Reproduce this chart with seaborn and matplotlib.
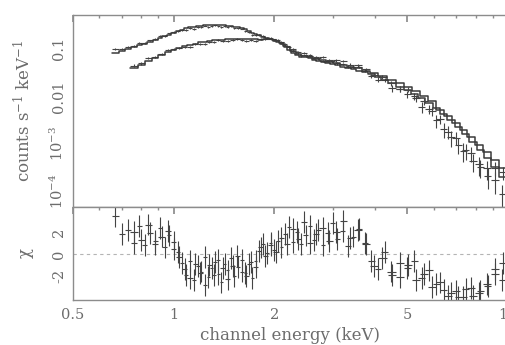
import numpy as np
import matplotlib
matplotlib.use('Agg')
import matplotlib.pyplot as plt
import seaborn as sns
from matplotlib.ticker import FixedLocator, NullFormatter, FixedFormatter

sns.set_theme(style='white')
plt.rcParams['font.family'] = ['DejaVu Serif']
plt.rcParams['mathtext.fontset'] = 'dejavuserif'

# ---------------- data ----------------
# spectrum 1 (higher at low energy)
s1_energy = [0.67, 0.70, 0.73, 0.76, 0.79, 0.82, 0.85, 0.88, 0.91, 0.94, 0.97, 1.00,
             1.03, 1.06, 1.09, 1.12, 1.15, 1.18, 1.21, 1.24, 1.27, 1.30, 1.33, 1.36,
             1.39, 1.42, 1.45, 1.48, 1.52, 1.56, 1.60, 1.64, 1.68, 1.72, 1.76, 1.80,
             1.85, 1.90, 1.95, 2.00, 2.05, 2.10, 2.16, 2.22, 2.28, 2.34, 2.41, 2.48,
             2.55, 2.63, 2.71, 2.80, 2.89, 2.99, 3.09, 3.20, 3.32, 3.45, 3.59, 3.74,
             3.90, 4.08, 4.28, 4.50, 4.75, 5.00, 5.25, 5.52, 5.80, 6.10, 6.42, 6.75,
             7.10, 7.47, 7.86, 8.27, 8.70, 9.15, 9.62]
s1_model = [0.082, 0.092, 0.101, 0.110, 0.120, 0.130, 0.141, 0.155, 0.170, 0.185, 0.200, 0.218,
            0.237, 0.256, 0.272, 0.284, 0.294, 0.302, 0.309, 0.315, 0.319, 0.321, 0.322, 0.321,
            0.319, 0.315, 0.310, 0.304, 0.295, 0.285, 0.274, 0.258, 0.240, 0.222, 0.205, 0.192,
            0.181, 0.173, 0.165, 0.155, 0.143, 0.130, 0.113, 0.097, 0.084, 0.076, 0.069, 0.066,
            0.063, 0.059, 0.056, 0.053, 0.050, 0.047, 0.045, 0.042, 0.040, 0.037, 0.035, 0.032,
            0.029, 0.026, 0.022, 0.019, 0.016, 0.0135, 0.0112, 0.0092, 0.0073, 0.0057, 0.0043, 0.0032,
            0.0023, 0.0016, 0.0011, 0.00075, 0.00050, 0.00032, 0.00020]
s1_relerr = [0.06, 0.05, 0.05, 0.05, 0.045, 0.045, 0.04, 0.04, 0.04, 0.04, 0.04, 0.04,
             0.04, 0.04, 0.04, 0.04, 0.04, 0.04, 0.04, 0.04, 0.04, 0.04, 0.04, 0.04,
             0.04, 0.04, 0.04, 0.04, 0.04, 0.04, 0.04, 0.04, 0.045, 0.045, 0.045, 0.045,
             0.045, 0.05, 0.05, 0.05, 0.05, 0.05, 0.055, 0.06, 0.06, 0.06, 0.06, 0.06,
             0.06, 0.06, 0.06, 0.065, 0.065, 0.065, 0.07, 0.07, 0.075, 0.08, 0.08, 0.085,
             0.09, 0.10, 0.11, 0.12, 0.13, 0.14, 0.15, 0.16, 0.17, 0.17, 0.16, 0.16,
             0.15, 0.17, 0.16, 0.17, 0.20, 0.26, 0.24]
s1_chi = [3.5, 1.8, 2.2, 1.0, 2.6, 0.8, 1.9, 1.2, 2.4, 0.6, 1.7, 1.1,
          0.2, -0.8, -1.9, -0.6, -2.4, -1.1, -1.6, -0.3, -2.1, -1.3, -0.7, -1.8,
          -2.6, -0.9, -1.5, -0.4, -2.0, -1.2, -0.5, -1.7, -0.9, -2.2, -0.6, 0.3,
          0.9, 0.1, 1.0, 0.4, 1.2, 0.6, 1.8, 2.5, 1.1, 2.0, 0.9, 1.7,
          2.6, 1.3, 2.2, 0.8, 1.9, 2.8, 1.4, 2.1, 0.7, 1.6, 2.3, 1.0,
          -0.6, -1.4, 0.2, -1.9, -0.8, -1.3, -0.6, -2.2, -1.5, -2.7, -3.3, -3.6,
          -3.9, -3.2, -3.8, -3.4, -2.9, -1.8, -2.4]

# spectrum 2 (lower at low energy, higher at high energy)
s2_energy = [0.76, 0.80, 0.84, 0.88, 0.92, 0.96, 1.00, 1.04, 1.08, 1.12, 1.16, 1.20,
             1.24, 1.28, 1.32, 1.36, 1.40, 1.45, 1.50, 1.55, 1.60, 1.65, 1.70, 1.76,
             1.82, 1.88, 1.95, 2.02, 2.10, 2.18, 2.27, 2.36, 2.46, 2.56, 2.67, 2.79,
             2.92, 3.06, 3.21, 3.37, 3.55, 3.75, 3.97, 4.21, 4.48, 4.75, 5.02, 5.30,
             5.60, 5.92, 6.25, 6.60, 6.97, 7.36, 7.77, 8.20, 8.66, 9.14, 9.65]
s2_model = [0.039, 0.046, 0.055, 0.064, 0.074, 0.085, 0.096, 0.106, 0.115, 0.123, 0.130, 0.137,
            0.143, 0.148, 0.152, 0.155, 0.158, 0.161, 0.163, 0.164, 0.164, 0.163, 0.161, 0.159,
            0.158, 0.160, 0.160, 0.150, 0.132, 0.110, 0.090, 0.078, 0.071, 0.066, 0.062, 0.058,
            0.054, 0.050, 0.046, 0.042, 0.039, 0.035, 0.031, 0.027, 0.0225, 0.0188, 0.0155, 0.0127,
            0.0102, 0.0080, 0.0052, 0.0038, 0.0027, 0.0019, 0.00135, 0.00095, 0.00066, 0.00045, 0.00031]
s2_relerr = [0.07, 0.06, 0.055, 0.05, 0.05, 0.05, 0.045, 0.045, 0.045, 0.045, 0.045, 0.045,
             0.045, 0.045, 0.045, 0.045, 0.045, 0.045, 0.045, 0.045, 0.045, 0.045, 0.045, 0.045,
             0.045, 0.045, 0.045, 0.05, 0.05, 0.055, 0.055, 0.06, 0.06, 0.06, 0.06, 0.065,
             0.065, 0.07, 0.07, 0.075, 0.075, 0.08, 0.085, 0.09, 0.10, 0.11, 0.11, 0.12,
             0.13, 0.13, 0.14, 0.14, 0.15, 0.16, 0.17, 0.17, 0.20, 0.22, 0.25]
s2_chi = [2.0, 1.3, 2.7, 0.9, 1.6, 2.1, 0.5, -0.3, -1.4, -2.2, -0.9, -1.7,
          -2.8, -1.0, -1.9, -0.5, -1.3, -2.3, -1.1, -0.2, -1.6, -2.0, -0.7, -1.2,
          0.6, -0.2, 0.8, 0.2, 1.5, 0.9, 2.3, 1.4, 2.9, 1.0, 1.8, 2.4,
          1.2, 2.0, 3.0, 1.5, 2.2, 0.9, -1.1, -0.4, -1.6, -2.1, -1.0, -2.4,
          -1.8, -3.0, -2.6, -3.8, -3.4, -3.9, -3.1, -3.6, -2.7, -1.4, -0.8]

x_ticks = [0.5, 1, 2, 5, 10]
x_ticklabels = ['0.5', '1', '2', '5', '10']
y_ticks = [1e-4, 1e-3, 1e-2, 1e-1]
y_ticklabels = ['10$^{-4}$', '10$^{-3}$', '0.01', '0.1']
chi_ticks = [-2, 0, 2]
chi_ticklabels = ['-2', '0', '2']

# ---------------- styling ----------------
TXT = '#6c6c6c'
SPN = '#8c8c8c'
DAT = '#444444'
FS_TICK = 10.5
FS_LAB = 12


def bin_edges(c):
    c = np.asarray(c, float)
    mid = np.sqrt(c[:-1] * c[1:])
    return np.concatenate([[c[0] ** 2 / mid[0]], mid, [c[-1] ** 2 / mid[-1]]])


fig = plt.figure(figsize=(5.06, 3.45), dpi=100)
fig.patch.set_facecolor('white')
L = 73 / 506
W = 508 / 506 - L
ax1 = fig.add_axes([L, 1 - 207 / 345, W, (207 - 15) / 345])
ax2 = fig.add_axes([L, 1 - 300 / 345, W, (300 - 207) / 345], sharex=ax1)

for E, M, R, C in [(s1_energy, s1_model, s1_relerr, s1_chi),
                   (s2_energy, s2_model, s2_relerr, s2_chi)]:
    E = np.asarray(E); M = np.asarray(M); R = np.asarray(R); C = np.asarray(C)
    ed = bin_edges(E)
    xlo = E - ed[:-1]
    xhi = ed[1:] - E
    err = M * R
    data = M + C * err
    ax1.errorbar(E, data, xerr=[xlo, xhi], yerr=err, fmt='none',
                 ecolor=DAT, elinewidth=0.8, capsize=0)
    sns.lineplot(x=np.repeat(ed, 2)[1:-1], y=np.repeat(M, 2), ax=ax1,
                 color='#3a3a3a', lw=1.1, sort=False, estimator=None)
    ax2.errorbar(E, C, xerr=[xlo, xhi], yerr=np.ones_like(C), fmt='none',
                 ecolor=DAT, elinewidth=0.8, capsize=0)

ax2.axhline(0, color='#b4b4b4', lw=0.8, ls=(0, (3, 3)), zorder=0)

for ax in (ax1, ax2):
    ax.set_facecolor('white')
    ax.set_xscale('log')
    ax.set_xlim(0.5, 10)
    for s in ax.spines.values():
        s.set_color(SPN)
        s.set_linewidth(1.0)
    ax.spines['right'].set_visible(False)
    ax.tick_params(which='both', direction='in', top=True, right=False,
                   colors=SPN, labelcolor=TXT, labelsize=FS_TICK)
    ax.tick_params(which='major', length=5)
    ax.tick_params(which='minor', length=2.5)
    ax.xaxis.set_major_locator(FixedLocator(x_ticks))
    ax.xaxis.set_minor_locator(FixedLocator([0.6, 0.7, 0.8, 0.9, 3, 4, 6, 7, 8, 9]))
    ax.xaxis.set_minor_formatter(NullFormatter())

ax1.set_yscale('log')
ax1.set_ylim(4.6e-5, 0.52)
ax1.yaxis.set_major_locator(FixedLocator(y_ticks))
ax1.yaxis.set_major_formatter(FixedFormatter(y_ticklabels))
ax1.yaxis.set_minor_locator(FixedLocator([m * 10.0 ** k for k in range(-5, 0) for m in range(2, 10)]))
ax1.yaxis.set_minor_formatter(NullFormatter())
plt.setp(ax1.get_xticklabels(), visible=False)
for t in ax1.get_yticklabels():
    t.set_rotation(90)
    t.set_va('center')
ax1.tick_params(axis='y', pad=5)
ax1.set_ylabel('counts s$^{-1}$ keV$^{-1}$', color=TXT, fontsize=FS_LAB)

ax2.set_ylim(-4.2, 4.3)
ax2.yaxis.set_major_locator(FixedLocator(chi_ticks))
ax2.yaxis.set_major_formatter(FixedFormatter(chi_ticklabels))
ax2.yaxis.set_minor_locator(FixedLocator([-3, -1, 1, 3]))
for t in ax2.get_yticklabels():
    t.set_rotation(90)
    t.set_va('center')
ax2.tick_params(axis='y', pad=5)
ax2.tick_params(axis='x', pad=6)
ax2.xaxis.set_major_formatter(FixedFormatter(x_ticklabels))
ax2.set_ylabel('χ', color=TXT, fontsize=FS_LAB)
ax2.set_xlabel('channel energy (keV)', color=TXT, fontsize=FS_LAB, labelpad=3)

ax1.yaxis.set_label_coords((34 - 73) / (506 * W), 0.5)
ax2.yaxis.set_label_coords((34 - 73) / (506 * W), 0.5)

fig.savefig('out.png', dpi=100, facecolor='white')
